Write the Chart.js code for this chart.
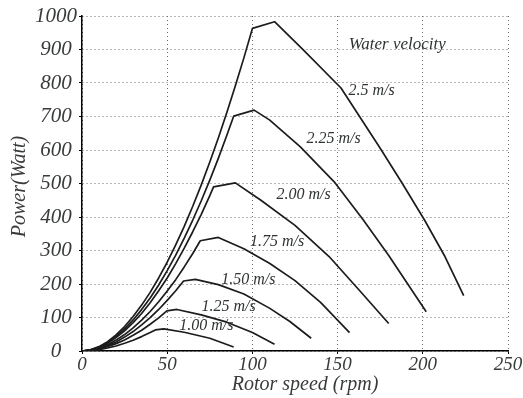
<!DOCTYPE html>
<html>
<head>
<meta charset="utf-8">
<script src="https://cdn.jsdelivr.net/npm/chart.js@4.4.1/dist/chart.umd.min.js"></script>
<style>
  html, body { margin: 0; padding: 0; background: #ffffff; }
  #wrap { width: 523px; height: 398px; position: relative; }
</style>
</head>
<body>
<div id="wrap"><canvas id="c" width="523" height="398"></canvas></div>
<script>
// Turbine power versus rotor speed, one curve per water velocity.
const velocityNames = ['1.00 m/s', '1.25 m/s', '1.50 m/s', '1.75 m/s', '2.00 m/s', '2.25 m/s', '2.5 m/s'];

const rpm100 = [0, 5, 10, 15, 20, 25, 30, 35, 40, 43, 48, 60, 75, 89];
const pow100 = [0, 1, 4, 9, 15, 23, 32, 43, 55, 63, 66, 56, 38, 12];

const rpm125 = [0, 5, 10, 15, 20, 25, 30, 35, 40, 45, 49.8, 55.7, 70, 85, 100, 113];
const pow125 = [0, 1.7, 6, 13, 22, 33, 47, 62, 80, 99, 120, 124, 108, 86, 55, 20];

const rpm150 = [0, 5, 10, 15, 20, 25, 30, 35, 40, 45, 50, 55, 59.6, 66.5, 80, 95, 110, 122, 134.5];
const pow150 = [0, 2, 7.5, 16, 27, 41.5, 58, 78, 99.5, 124, 151, 180, 209, 214, 198, 170, 128, 88, 38];

const rpm175 = [0, 5, 10, 15, 20, 25, 30, 35, 40, 45, 50, 55, 60, 65, 69.4, 80, 95, 110, 125, 140, 157];
const pow175 = [0, 2.5, 9, 19, 32.5, 49, 69, 92, 118, 147, 179, 213, 251, 291, 329, 339, 305, 262, 210, 145, 55];

const rpm200 = [0, 5, 10, 15, 20, 25, 30, 35, 40, 45, 50, 55, 60, 65, 70, 75, 77.2, 90, 105, 125, 145, 163, 180];
const pow200 = [0, 3, 11, 23, 40, 60, 84.5, 112, 144, 180, 218, 261, 307, 356, 408, 464, 490, 502, 450, 375, 282, 180, 82];

const rpm225 = [0, 5, 10, 15, 20, 25, 30, 35, 40, 45, 50, 55, 60, 65, 70, 75, 80, 85, 89, 101, 110, 128, 148, 165, 180, 202];
const pow225 = [0, 3.3, 12, 25.6, 43.6, 66, 92.7, 123.6, 158, 197, 240, 286, 337, 391, 448.5, 510, 575, 644, 701, 719, 690, 610, 505, 392, 285, 117];

const rpm250 = [0, 5, 10, 15, 20, 25, 30, 35, 40, 45, 50, 55, 60, 65, 70, 75, 80, 85, 90, 95, 100, 113, 130, 152, 175, 188, 201, 213, 224];
const pow250 = [0, 3.7, 13, 28, 48, 73, 103, 137, 175, 218, 265, 317, 372, 432, 496, 564, 636, 712, 792, 875, 963, 983, 898, 785, 605, 500, 391, 282, 165];

const xTicks = [0, 50, 100, 150, 200, 250];
const yTicks = [0, 100, 200, 300, 400, 500, 600, 700, 800, 900, 1000];

const seriesRpm = [rpm100, rpm125, rpm150, rpm175, rpm200, rpm225, rpm250];
const seriesPow = [pow100, pow125, pow150, pow175, pow200, pow225, pow250];

// Where each velocity caption sits, in data units (rpm, W)
const captionAt = [
  [73, 75], [86, 131], [97.6, 212], [114.5, 326], [130, 466], [147.6, 633], [170, 776]
];
const headerAt = [185, 916];

const serif = "'Liberation Serif', 'DejaVu Serif', serif";
const textColor = '#383c39';

const datasets = seriesRpm.map((xs, i) => ({
  label: velocityNames[i],
  data: xs.map((x, k) => ({ x: x, y: seriesPow[i][k] })),
  showLine: true,
  borderColor: '#1c1c1c',
  borderWidth: 1.7,
  borderJoinStyle: 'round',
  pointRadius: 0,
  tension: 0,
  fill: false
}));

// Velocity captions inside the plot, plus the two axis titles
const captions = {
  id: 'captions',
  afterDatasetsDraw(chart) {
    const { ctx, chartArea, scales: { x, y } } = chart;
    ctx.save();
    ctx.fillStyle = '#2e3430';
    ctx.textAlign = 'center';
    ctx.textBaseline = 'middle';
    ctx.font = 'italic 16px ' + serif;
    velocityNames.forEach((name, i) => {
      ctx.fillText(name, x.getPixelForValue(captionAt[i][0]), y.getPixelForValue(captionAt[i][1]));
    });
    ctx.font = 'italic 17px ' + serif;
    ctx.fillText('Water velocity', x.getPixelForValue(headerAt[0]), y.getPixelForValue(headerAt[1]));

    ctx.fillStyle = textColor;
    ctx.font = 'italic 20px ' + serif;
    const midX = (chartArea.left + chartArea.right) / 2;
    const midY = (chartArea.top + chartArea.bottom) / 2;
    ctx.fillText('Rotor speed (rpm)', midX + 10, chart.height - 13);
    ctx.translate(20, midY + 3);
    ctx.rotate(-Math.PI / 2);
    ctx.fillText('Power(Watt)', 0, 0);
    ctx.restore();
  }
};

const gridStyle = {
  color: '#6a6a6a', lineWidth: 1,
  drawTicks: true, tickLength: 3, tickColor: '#000', tickBorderDash: []
};
const borderStyle = { display: true, color: '#000', width: 1.5, dash: [1, 3] };

new Chart(document.getElementById('c'), {
  type: 'scatter',
  data: { datasets: datasets },
  options: {
    responsive: false,
    devicePixelRatio: 1,
    animation: false,
    events: [],
    layout: { padding: { left: 0, right: 15, top: 16, bottom: 0 } },
    plugins: { legend: { display: false }, tooltip: { enabled: false } },
    scales: {
      x: {
        type: 'linear',
        min: 0, max: 250,
        afterBuildTicks(s) { s.ticks = xTicks.map(v => ({ value: v })); },
        afterFit(s) { s.height = 47; },
        border: borderStyle,
        grid: gridStyle,
        ticks: {
          padding: 0,
          color: textColor,
          font: { family: serif, size: 19, style: 'italic' },
          callback: v => String(v)
        }
      },
      y: {
        type: 'linear',
        min: 0, max: 1000,
        afterBuildTicks(s) { s.ticks = yTicks.map(v => ({ value: v })); },
        afterFit(s) { s.width = 82; },
        border: borderStyle,
        grid: gridStyle,
        ticks: {
          padding: 2,
          crossAlign: 'center',
          color: textColor,
          font: { family: serif, size: 21, style: 'italic' },
          callback: v => String(v)
        }
      }
    }
  },
  plugins: [captions]
});
</script>
</body>
</html>
